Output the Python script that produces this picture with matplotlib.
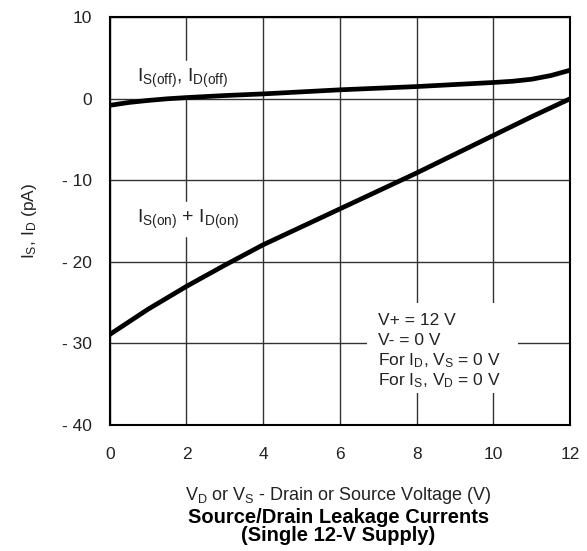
import matplotlib
matplotlib.use("Agg")
import matplotlib.pyplot as plt
from matplotlib.patches import Rectangle

plt.rcParams['font.family'] = ['Liberation Sans', 'DejaVu Sans']
plt.rcParams['mathtext.fontset'] = 'custom'
plt.rcParams['mathtext.rm'] = 'Liberation Sans'
plt.rcParams['mathtext.it'] = 'Liberation Sans'
plt.rcParams['mathtext.bf'] = 'Liberation Sans:bold'

# data
v = [0, 0.5, 1, 1.5, 2, 3, 4, 5, 6, 7, 8, 9, 10, 10.5, 11, 11.5, 12]
i_off = [-0.8, -0.45, -0.2, 0.0, 0.15, 0.4, 0.6, 0.85, 1.1, 1.3, 1.5, 1.75, 2.0, 2.15, 2.4, 2.85, 3.5]
v_on = [0, 1, 2, 3, 4, 5, 6, 7, 8, 9, 10, 11, 12]
i_on = [-28.9, -25.8, -23.0, -20.4, -17.9, -15.7, -13.5, -11.3, -9.1, -6.8, -4.5, -2.2, 0.0]

xticks = [0, 2, 4, 6, 8, 10, 12]
yticks = [10, 0, -10, -20, -30, -40]
ylabels = ['10', '0', '- 10', '- 20', '- 30', '- 40']

notes = ['V+ = 12 V', 'V- = 0 V',
         r'For $\mathrm{I_D}$, $\mathrm{V_S}$ = 0 V',
         r'For $\mathrm{I_S}$, $\mathrm{V_D}$ = 0 V']

fig = plt.figure(figsize=(5.87, 5.51), dpi=100)
ax = fig.add_axes([0.187, 0.2287, 0.784, 0.740])

ax.plot(v, i_off, color='black', lw=3.4, solid_capstyle='round', zorder=3)
ax.plot(v_on, i_on, color='black', lw=3.4, solid_capstyle='round', zorder=3)

ax.set_xlim(0, 12)
ax.set_ylim(-40, 10)
ax.set_xticks(xticks)
ax.set_yticks(yticks)
ax.set_yticklabels(ylabels)
ax.tick_params(length=0, labelsize=12.5, colors='#222222')
ax.tick_params(axis='x', pad=16)
ax.tick_params(axis='y', pad=13)
ax.grid(True, color='#333333', lw=1, zorder=1)
ax.set_axisbelow(True)
for s in ax.spines.values():
    s.set_linewidth(1.5)

ax.text(0.7, 2.1, r'$\mathrm{I_{S(off)}}$, $\mathrm{I_{D(off)}}$', fontsize=14, color='#222222',
        backgroundcolor='white', zorder=2)
ax.text(0.7, -15.2, r'$\mathrm{I_{S(on)}}$ + $\mathrm{I_{D(on)}}$', fontsize=14, color='#222222',
        backgroundcolor='white', zorder=2)

# white patch behind the conditions text
ax.add_patch(Rectangle((6.72, -36.1), 3.92, 11.0, facecolor='white', edgecolor='none', zorder=1.8))
for k, line in enumerate(notes):
    ax.text(7.0, -27.8 - 2.45 * k, line, fontsize=12.5, color='#222222',
            va='baseline', ha='left', zorder=2)

ax.set_ylabel(r'$\mathrm{I_S}$, $\mathrm{I_D}$ (pA)', fontsize=12.5, color='#222222', labelpad=16)
fig.text(0.576, 0.092, r'$\mathrm{V_D}$ or $\mathrm{V_S}$ - Drain or Source Voltage (V)',
         ha='center', fontsize=13, color='#222222')
fig.text(0.576, 0.018, 'Source/Drain Leakage Currents\n(Single 12-V Supply)',
         ha='center', fontsize=14.5, fontweight='bold', linespacing=0.95)

fig.savefig('out.png', dpi=100)
